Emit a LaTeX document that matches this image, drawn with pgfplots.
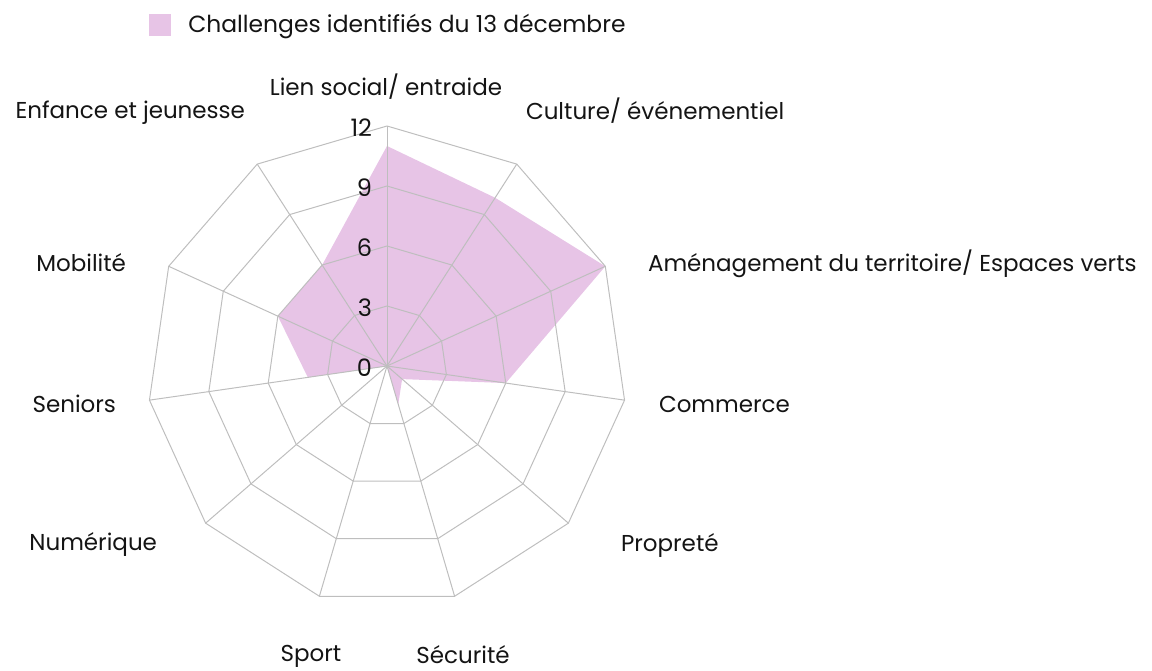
\documentclass[border=0pt]{standalone}
\usepackage{pgfplots}
\pgfplotsset{compat=1.18}
\usepackage{fontspec}
\setmainfont{Poppins}
\definecolor{fillpink}{RGB}{231,196,230}
\definecolor{gridgray}{RGB}{190,190,190}
\definecolor{txt}{RGB}{20,20,20}
\tikzset{lab/.style={inner sep=0pt, outer sep=0pt, font=\fontsize{11.5pt}{14pt}\selectfont, text=txt},
  tk/.style={inner sep=0pt, outer sep=0pt, font=\fontsize{12pt}{14pt}\selectfont, text=txt}}
\begin{document}
\begin{tikzpicture}
\begin{axis}[
  x=10pt, y=10pt,
  xmin=-19.35, xmax=38.25, ymin=-15.2, ymax=18.3,
  scale only axis,
  axis line style={draw=none},
  xtick=\empty, ytick=\empty,
  clip=false,
  legend style={at={(0.1293,0.9855)}, anchor=north west, draw=none, fill=none,
    font=\fontsize{11.7pt}{14pt}\selectfont\color{txt}, inner sep=0pt},
  legend image code/.code={\fill[fillpink] (0pt,-5.5pt) rectangle (11pt,5.5pt);},
]
\coordinate (ll) at (axis cs:-19.35,-15.2);
\coordinate (ur) at (axis cs:38.25,18.3);
% data
\addplot[fill=fillpink, draw=none, data cs=polar] coordinates {
  (90,11) (57.2727,10) (24.5455,12) (-8.1818,6) (-40.9091,1) (-73.6364,2)
  (-106.3636,0) (-139.0909,0) (-171.8182,4) (-204.5455,6) (-237.2727,6) (90,11)
} -- cycle;
\addlegendentry{\hspace{6.5pt}Challenges identifiés du 13 décembre}
% grid polygons
\pgfplotsinvokeforeach{3,6,9,12}{
\addplot[gridgray, line width=0.5pt, data cs=polar, forget plot] coordinates {
  (90,#1) (57.2727,#1) (24.5455,#1) (-8.1818,#1) (-40.9091,#1) (-73.6364,#1)
  (-106.3636,#1) (-139.0909,#1) (-171.8182,#1) (-204.5455,#1) (-237.2727,#1) (90,#1)
};
}
% spokes
\pgfplotsinvokeforeach{90,57.2727,24.5455,-8.1818,-40.9091,-73.6364,-106.3636,-139.0909,-171.8182,-204.5455,-237.2727}{
\addplot[gridgray, line width=0.5pt, data cs=polar, forget plot] coordinates {(#1,0) (#1,12)};
}
% category labels
\node[lab, anchor=center] at (axis cs:-0.05,13.95) {Lien social/ entraide};
\node[lab, anchor=west] at (axis cs:6.95,12.75) {Culture/ événementiel};
\node[lab, anchor=west] at (axis cs:13.05,5.1) {Aménagement du territoire/ Espaces verts};
\node[lab, anchor=west] at (axis cs:13.6,-1.9) {Commerce};
\node[lab, anchor=west] at (axis cs:11.7,-8.95) {Propreté};
\node[lab, anchor=base] at (axis cs:3.8,-14.88) {Sécurité};
\node[lab, anchor=base] at (axis cs:-3.8,-14.78) {Sport};
\node[lab, anchor=east] at (axis cs:-11.5,-8.9) {Numérique};
\node[lab, anchor=east] at (axis cs:-13.55,-1.9) {Seniors};
\node[lab, anchor=east] at (axis cs:-13.05,5.15) {Mobilité};
\node[lab, anchor=east] at (axis cs:-7.1,12.65) {Enfance et jeunesse};
% radial tick labels
\node[tk, anchor=east] at (axis cs:-0.75,11.9) {12};
\node[tk, anchor=east] at (axis cs:-0.75,8.9) {9};
\node[tk, anchor=east] at (axis cs:-0.75,5.9) {6};
\node[tk, anchor=east] at (axis cs:-0.75,2.9) {3};
\node[tk, anchor=east] at (axis cs:-0.75,-0.1) {0};
\end{axis}
\pgfresetboundingbox
\useasboundingbox (ll) rectangle (ur);
\end{tikzpicture}
\end{document}
